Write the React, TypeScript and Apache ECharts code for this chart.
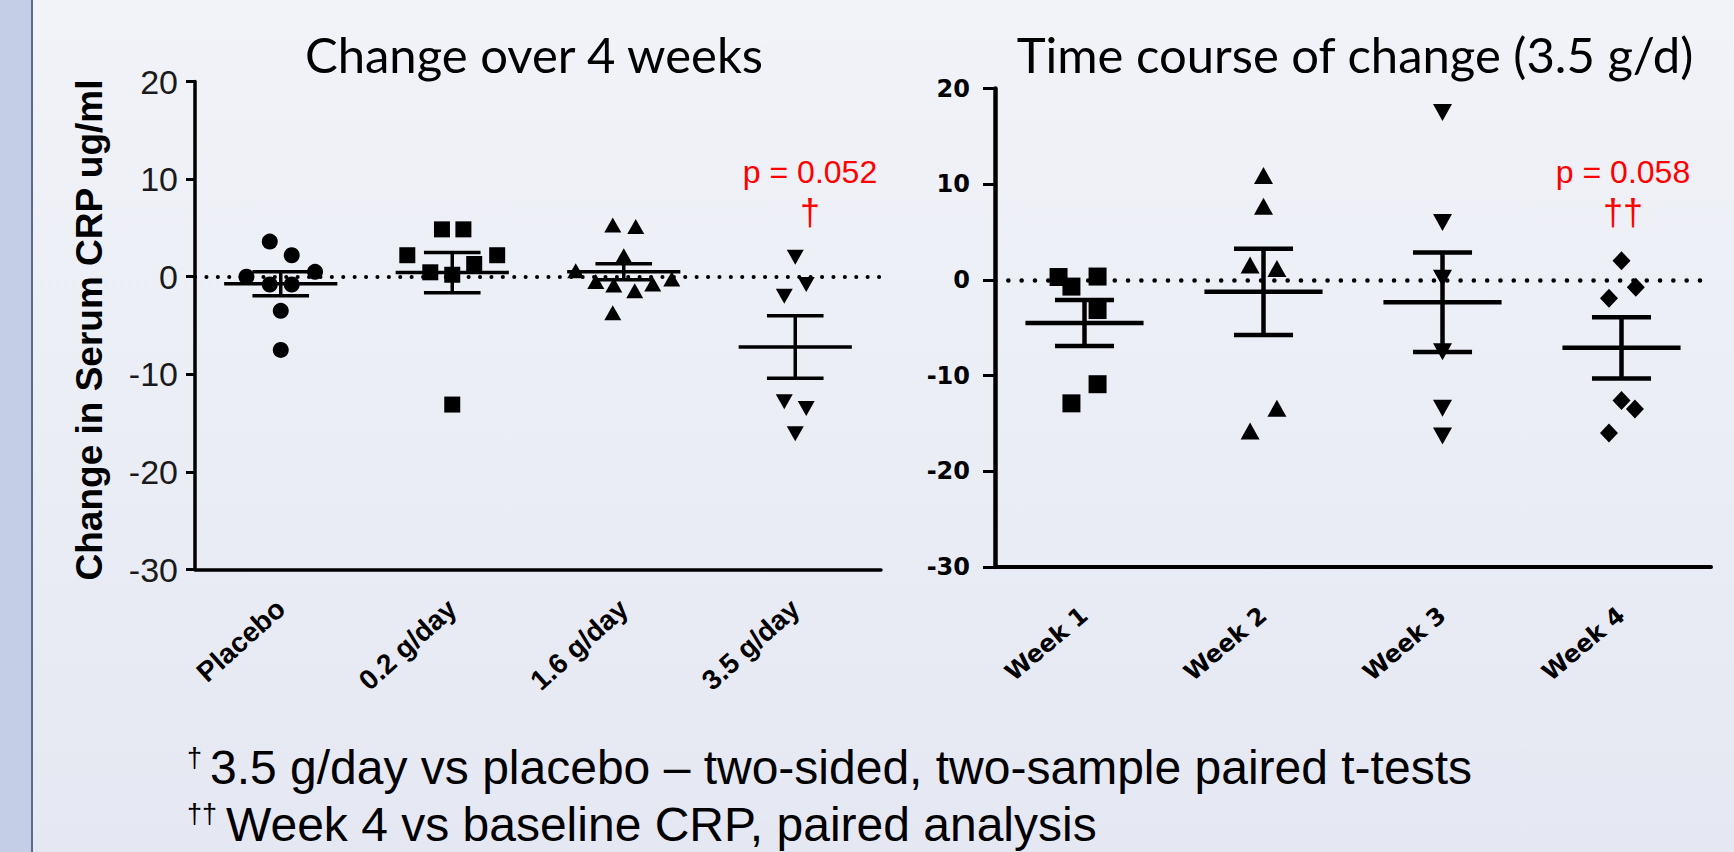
import React, { useEffect, useRef } from "react";
import * as echarts from "echarts";

// ---------- data ----------
const leftCategories = ["Placebo", "0.2 g/day", "1.6 g/day", "3.5 g/day"];
const rightCategories = ["Week 1", "Week 2", "Week 3", "Week 4"];
const yTicks = { min: -30, max: 20, interval: 10 };

// Left panel: change over 4 weeks (individual values) and their horizontal jitter (in category units)
const placeboValues = [3.6, 2.2, 0.5, 0.0, -0.8, -0.8, -3.5, -7.5];
const placeboJitter = [-0.064, 0.064, 0.2, -0.2, -0.064, 0.064, 0, 0];
const dose02Values = [4.85, 4.85, 2.2, 2.2, 1.3, 0.45, 0.2, -13.1];
const dose02Jitter = [-0.06, 0.065, -0.262, 0.262, 0.128, -0.128, 0, 0];
const dose16Values = [5.3, 5.15, 2.15, 0.6, -0.24, -0.48, -0.85, -0.75, -1.43, -3.7];
const dose16Jitter = [-0.064, 0.07, 0, -0.28, 0.28, -0.163, -0.058, 0.169, 0.064, -0.064];
const dose35Values = [2.0, -0.8, -2.0, -12.8, -13.5, -16.1];
const dose35Jitter = [0, 0.064, -0.064, -0.064, 0.064, 0];
const leftMeans = [-0.72, 0.42, 0.51, -7.2];
const leftSems = [1.23, 2.06, 0.82, 3.2];

// Right panel: time course (3.5 g/d)
const week1Values = [0.3, -0.7, 0.35, -3.15, -10.9, -12.9];
const week1Jitter = [-0.145, -0.073, 0.073, 0.073, 0.073, -0.073];
const week2Values = [10.9, 7.7, 1.56, 1.2, -13.4, -15.8];
const week2Jitter = [0, 0, -0.075, 0.075, 0.075, -0.075];
const week3Values = [17.5, 6.0, 0.17, -7.5, -13.4, -16.3];
const week3Jitter = [0, 0, 0, 0, 0, 0];
const week4Values = [2.0, -0.78, -1.91, -12.6, -13.5, -16.0];
const week4Jitter = [0, 0.08, -0.07, 0, 0.075, -0.07];
const rightMeans = [-4.5, -1.25, -2.33, -7.1];
const rightSems = [2.4, 4.5, 5.2, 3.2];

const titles = ["Change over 4 weeks", "Time course of change (3.5 g/d)"];
const yAxisTitle = "Change in Serum CRP ug/ml";
const pTexts = ["p = 0.052", "p = 0.058"];
const daggers = ["†", "††"];
const footnotes = [
  "3.5 g/day vs placebo – two-sided, two-sample paired t-tests",
  "Week 4 vs baseline CRP, paired analysis",
];

// ---------- helpers ----------
const pts = (cat: number, vals: number[], jit: number[]) =>
  vals.map((v, i) => [cat + jit[i], v]);

function errorBars(lw: number) {
  return (params: any, api: any) => {
    const x = api.value(0);
    const m = api.value(1);
    const s = api.value(2);
    const c = api.coord([x, m]);
    const hi = api.coord([x, m + s]);
    const lo = api.coord([x, m - s]);
    const band = api.size([1, 0])[0];
    const mw = band * 0.33;
    const cw = band * 0.165;
    const style = { stroke: "#000", lineWidth: lw, fill: null };
    return {
      type: "group",
      children: [
        { type: "line", shape: { x1: c[0] - mw, y1: c[1], x2: c[0] + mw, y2: c[1] }, style },
        { type: "line", shape: { x1: hi[0], y1: hi[1], x2: lo[0], y2: lo[1] }, style },
        { type: "line", shape: { x1: hi[0] - cw, y1: hi[1], x2: hi[0] + cw, y2: hi[1] }, style },
        { type: "line", shape: { x1: lo[0] - cw, y1: lo[1], x2: lo[0] + cw, y2: lo[1] }, style },
      ],
    };
  };
}

export default function App() {
  const ref = useRef<HTMLDivElement>(null);

  useEffect(() => {
    if (!ref.current) return;
    const chart = echarts.init(ref.current, undefined, { renderer: "svg" });

    const catAxis = (grid: number, data: string[], lw: number, label: any) => ({
      type: "category",
      gridIndex: grid,
      data,
      axisLine: { onZero: false, lineStyle: { color: "#000", width: lw } },
      axisTick: { alignWithLabel: true, length: 10, lineStyle: { color: "#000", width: 3 } },
      axisLabel: label,
      splitLine: { show: false },
    });
    const valXAxis = (grid: number) => ({
      type: "value",
      gridIndex: grid,
      min: -0.5,
      max: 3.5,
      show: false,
      axisLine: { onZero: false },
      splitLine: { show: false },
    });
    const valYAxis = (grid: number, lw: number, tickLen: number, label: any) => ({
      type: "value",
      gridIndex: grid,
      min: yTicks.min,
      max: yTicks.max,
      interval: yTicks.interval,
      axisLine: { show: true, onZero: false, lineStyle: { color: "#000", width: lw } },
      axisTick: { show: true, length: tickLen, lineStyle: { color: "#000", width: 3 } },
      axisLabel: label,
      splitLine: { show: false },
    });

    const scatter = (xi: number, yi: number, data: number[][], symbol: string, size: any, rotate = 0) => ({
      type: "scatter",
      xAxisIndex: xi,
      yAxisIndex: yi,
      symbol,
      symbolSize: size,
      symbolRotate: rotate,
      itemStyle: { color: "#000", opacity: 1 },
      data,
      z: 3,
    });

    const zeroLine = (dash: number[], w: number) => ({
      silent: true,
      symbol: ["none", "none"],
      label: { show: false },
      lineStyle: { color: "#000", type: dash, width: w, cap: "round" },
      data: [{ yAxis: 0 }],
    });

    const option: any = {
      animation: false,
      backgroundColor: {
        type: "linear",
        x: 0, y: 0, x2: 0, y2: 1,
        colorStops: [
          { offset: 0, color: "#f1f3f8" },
          { offset: 1, color: "#e5e8f2" },
        ],
      },
      grid: [
        { left: 195, top: 81.5, width: 686, height: 488 },
        { left: 995, top: 88.5, width: 716, height: 478.5 },
      ],
      xAxis: [
        catAxis(0, leftCategories, 3.5, {
          rotate: 42, fontWeight: "bold", fontSize: 28, color: "#000",
          fontFamily: "Liberation Sans", margin: 35,
        }),
        valXAxis(0),
        catAxis(1, rightCategories, 4, {
          rotate: 40, fontWeight: "bold", fontSize: 24, color: "#000",
          fontFamily: "DejaVu Sans", margin: 45,
        }),
        valXAxis(1),
      ],
      yAxis: [
        valYAxis(0, 3.5, 9, { fontSize: 34, color: "#1a1a1a", fontFamily: "Liberation Sans", margin: 17 }),
        valYAxis(1, 4.5, 12, { fontSize: 24, fontWeight: "bold", color: "#000", fontFamily: "DejaVu Sans", margin: 25 }),
      ],
      series: [
        {
          type: "custom",
          xAxisIndex: 1,
          yAxisIndex: 0,
          renderItem: errorBars(3.5),
          encode: { x: 0, y: 1 },
          data: leftMeans.map((m, i) => [i, m, leftSems[i]]),
          markLine: zeroLine([0.1, 11.3], 4),
          z: 4,
        },
        scatter(1, 0, pts(0, placeboValues, placeboJitter), "circle", 16),
        scatter(1, 0, pts(1, dose02Values, dose02Jitter), "rect", 16),
        scatter(1, 0, pts(2, dose16Values, dose16Jitter), "triangle", [17, 15]),
        scatter(1, 0, pts(3, dose35Values, dose35Jitter), "triangle", [17, 15], 180),
        {
          type: "custom",
          xAxisIndex: 3,
          yAxisIndex: 1,
          renderItem: errorBars(4.5),
          encode: { x: 0, y: 1 },
          data: rightMeans.map((m, i) => [i, m, rightSems[i]]),
          markLine: zeroLine([0.1, 13.2], 4.5),
          z: 4,
        },
        scatter(3, 1, pts(0, week1Values, week1Jitter), "rect", 18),
        scatter(3, 1, pts(1, week2Values, week2Jitter), "triangle", [19, 17]),
        scatter(3, 1, pts(2, week3Values, week3Jitter), "triangle", [19, 17], 180),
        scatter(3, 1, pts(3, week4Values, week4Jitter), "diamond", [18, 19]),
      ],
      graphic: [
        { type: "rect", left: 0, top: 0, shape: { x: 0, y: 0, width: 31, height: 852 }, style: { fill: "#c4cee7" }, z: 0 },
        { type: "rect", left: 31, top: 0, shape: { x: 0, y: 0, width: 2, height: 852 }, style: { fill: "#5d6a87" }, z: 0 },
        {
          type: "text", x: 534, y: 54,
          style: { text: titles[0], font: "49px Lato", fill: "#000", textAlign: "center", textVerticalAlign: "middle" },
        },
        {
          type: "text", x: 1355, y: 54,
          style: { text: titles[1], font: "49px Lato", fill: "#000", textAlign: "center", textVerticalAlign: "middle" },
        },
        {
          type: "text", x: 89, y: 330, rotation: Math.PI / 2,
          style: { text: yAxisTitle, font: "bold 37px 'Liberation Sans'", fill: "#000", textAlign: "center", textVerticalAlign: "middle" },
        },
        {
          type: "text", x: 810, y: 172,
          style: { text: pTexts[0], font: "32px 'Liberation Sans'", fill: "#ff0000", textAlign: "center", textVerticalAlign: "middle" },
        },
        {
          type: "text", x: 810, y: 212,
          style: { text: daggers[0], font: "36px 'Liberation Sans'", fill: "#ff0000", textAlign: "center", textVerticalAlign: "middle" },
        },
        {
          type: "text", x: 1623, y: 172,
          style: { text: pTexts[1], font: "32px 'Liberation Sans'", fill: "#ff0000", textAlign: "center", textVerticalAlign: "middle" },
        },
        {
          type: "text", x: 1623, y: 212,
          style: { text: daggers[1], font: "36px 'Liberation Sans'", fill: "#ff0000", textAlign: "center", textVerticalAlign: "middle" },
        },
        {
          type: "text", x: 187, y: 744,
          style: { text: daggers[0], font: "27px 'Liberation Sans'", fill: "#000", textAlign: "left", textVerticalAlign: "top" },
        },
        {
          type: "text", x: 210, y: 767,
          style: { text: footnotes[0], font: "48px 'Liberation Sans'", fill: "#000", textAlign: "left", textVerticalAlign: "middle" },
        },
        {
          type: "text", x: 187, y: 800,
          style: { text: daggers[1], font: "27px 'Liberation Sans'", fill: "#000", textAlign: "left", textVerticalAlign: "top" },
        },
        {
          type: "text", x: 226, y: 824,
          style: { text: footnotes[1], font: "48px 'Liberation Sans'", fill: "#000", textAlign: "left", textVerticalAlign: "middle" },
        },
      ],
    };

    chart.setOption(option);
    return () => chart.dispose();
  }, []);

  return (
    <div
      ref={ref}
      style={{ position: "fixed", left: 0, top: 0, width: 1734, height: 852 }}
    />
  );
}
